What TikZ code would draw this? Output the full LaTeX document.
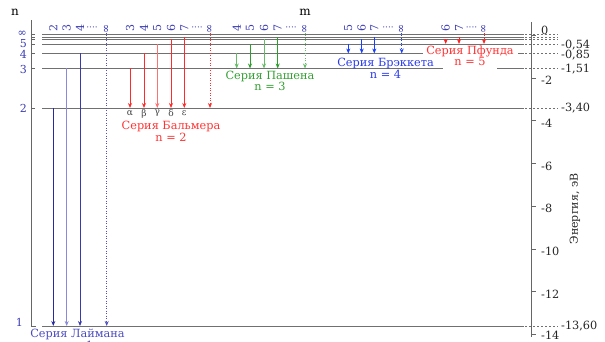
\documentclass[tikz,border=0pt]{standalone}
\usepackage{fontspec}
\setmainfont{DejaVu Serif}
\usetikzlibrary{arrows.meta}
\definecolor{lvlgray}{HTML}{707070}
\definecolor{lab}{HTML}{3C3CB4}
\definecolor{lyA}{HTML}{2A2AA0}
\definecolor{lyB}{HTML}{8A8AD8}
\definecolor{lyC}{HTML}{3A3AB0}
\definecolor{lyD}{HTML}{5050C0}
\definecolor{baR}{HTML}{FF2A2A}
\definecolor{baL}{HTML}{FF7070}
\definecolor{paG}{HTML}{2E9E2E}
\definecolor{paL}{HTML}{66BB66}
\definecolor{brB}{HTML}{1A40FF}
\definecolor{pfR}{HTML}{FF2020}
\definecolor{serR}{HTML}{FF3333}
\definecolor{serG}{HTML}{33A033}
\definecolor{serB}{HTML}{2A3AE8}
\definecolor{serL}{HTML}{4A4AC0}
\begin{document}
\begin{tikzpicture}[x=1pt,y=-1pt,
  lvl/.style={draw=lvlgray, line width=0.8pt},
  ext/.style={draw=lvlgray, line width=0.6pt, dash pattern=on 2pt off 2pt},
  axis/.style={draw=black!60, line width=0.9pt},
  arr/.style={-{Stealth[length=5pt,width=4pt]}, line width=0.8pt},
  dotarr/.style={arr, dash pattern=on 1pt off 1.5pt},
  mlab/.style={rotate=90, text=lab, font=\fontsize{11}{11}\selectfont, inner sep=0pt},
  dots/.style={text=lab, font=\fontsize{9}{9}\selectfont, inner sep=0pt},
  nlab/.style={text=lab, font=\fontsize{11}{11}\selectfont, anchor=east, inner sep=0pt},
  elab/.style={font=\fontsize{11.3}{11.3}\selectfont, anchor=west, inner sep=0pt, text=black!85},
  ser/.style={font=\fontsize{11.3}{11.5}\selectfont, inner sep=0pt},
  greek/.style={font=\fontsize{9}{9}\selectfont, text=black!75, inner sep=0pt}]
\useasboundingbox (0,0) rectangle (605,342);
% level y values
\def\yI{34.5}\def\ySv{37}\def\ySx{39.5}\def\yF{44}\def\yQ{53.5}\def\yT{68.5}\def\yB{108}\def\yA{326}
% level lines
\foreach \yy in {\yI,\ySv,\ySx,\yF,\yB,\yA}{
  \draw[lvl] (42,\yy) -- (524,\yy);
  \draw[ext] (525,\yy) -- (558,\yy);
}
\draw[lvl] (42,\yQ) -- (423,\yQ);
\draw[lvl] (518,\yQ) -- (524,\yQ);
\draw[ext] (525,\yQ) -- (558,\yQ);
\draw[lvl] (42,\yT) -- (443,\yT);
\draw[lvl] (497,\yT) -- (524,\yT);
\draw[ext] (525,\yT) -- (558,\yT);
% left axis
\draw[axis] (31,20) -- (31,\yA) -- (36,\yA);
\foreach \yy in {\yI,\ySv,\ySx,\yF,\yQ,\yT,\yB}{\draw[axis,line width=0.6pt] (31,\yy) -- (35,\yy);}
\node[nlab] (ninf) at (27,33.5) {∞};
\node[nlab] (n5) at (27,44) {5};
\node[nlab] (n4) at (27,54.5) {4};
\node[nlab] (n3) at (27,69) {3};
\node[nlab] (n2) at (27,108) {2};
\node[nlab] (n1) at (23,322) {1};
\node[font=\fontsize{12}{12}\selectfont] (nhead) at (15,12) {n};
\node[font=\fontsize{12}{12}\selectfont] (mhead) at (305,12) {m};
% right axis
\draw[axis] (531,22) -- (531,337);
\foreach \k in {0,...,7}{\draw[axis,line width=0.6pt] (531,35.3+42.7*\k) -- (536,35.3+42.7*\k);}
\node[elab] (e0) at (541,30) {0};
\foreach \k/\t in {1/-2,2/-4,3/-6,4/-8,5/-10,6/-12}{\node[elab] (ax\k) at (541,37.8+42.7*\k) {\t};}
\node[elab] (ax7) at (541,335.5) {-14};
\node[elab] (l5) at (561,45) {-0,54};
\node[elab] (l4) at (561,55) {-0,85};
\node[elab] (l3) at (561,69) {-1,51};
\node[elab] (l2) at (561,108) {-3,40};
\node[elab] (l1) at (561,326) {-13,60};
\node[rotate=90, font=\fontsize{11}{11}\selectfont, text=black!85] (eaxis) at (575,209) {Энергия, эВ};
% ---- Lyman
\coordinate (ly2s) at (53.3,\yB); \coordinate (ly2e) at (53.3,\yA);
\coordinate (ly3s) at (66.7,\yT); \coordinate (ly3e) at (66.7,\yA);
\coordinate (ly4s) at (80,\yQ);   \coordinate (ly4e) at (80,\yA);
\coordinate (lyis) at (106.7,33); \coordinate (lyie) at (106.7,\yA);
\draw[arr,lyA] (ly2s) -- (ly2e);
\draw[arr,lyB] (ly3s) -- (ly3e);
\draw[arr,lyC] (ly4s) -- (ly4e);
\draw[dotarr,lyD] (lyis) -- (lyie);
\node[mlab] (m12) at (53.3,28.5) {2};
\node[mlab] (m13) at (66.7,28.5) {3};
\node[mlab] (m14) at (80,28.5) {4};
\node[dots] (d1) at (92,28.5) {····};
\node[mlab] (m1i) at (106.7,28.5) {∞};
\node[ser,text=serL] (lyname) at (77.5,334.5) {Серия Лаймана};
\node[ser,text=serL] (lyn) at (77.5,345) {n = 1};
% ---- Balmer
\coordinate (ba3s) at (130,\yT);  \coordinate (ba3e) at (130,\yB);
\coordinate (ba4s) at (144,\yQ);  \coordinate (ba4e) at (144,\yB);
\coordinate (ba5s) at (157.3,\yF);\coordinate (ba5e) at (157.3,\yB);
\coordinate (ba6s) at (171,\ySx); \coordinate (ba6e) at (171,\yB);
\coordinate (ba7s) at (184.3,\ySv);\coordinate (ba7e) at (184.3,\yB);
\coordinate (bais) at (210,33);   \coordinate (baie) at (210,\yB);
\draw[arr,baR] (ba3s) -- (ba3e);
\draw[arr,baR] (ba4s) -- (ba4e);
\draw[arr,baL] (ba5s) -- (ba5e);
\draw[arr,baR] (ba6s) -- (ba6e);
\draw[arr,baR] (ba7s) -- (ba7e);
\draw[dotarr,baR] (bais) -- (baie);
\node[mlab] (m23) at (130,28.5) {3};
\node[mlab] (m24) at (144,28.5) {4};
\node[mlab] (m25) at (157.3,28.5) {5};
\node[mlab] (m26) at (171,28.5) {6};
\node[mlab] (m27) at (184.3,28.5) {7};
\node[dots] (d2) at (197,28.5) {····};
\node[mlab] (m2i) at (210,28.5) {∞};
\node[greek] (ga) at (130,113.5) {α};
\node[greek] (gb) at (144,113.5) {β};
\node[greek] (gc) at (157.3,113.5) {γ};
\node[greek] (gd) at (171,113.5) {δ};
\node[greek] (ge) at (184.3,113.5) {ε};
\node[ser,text=serR] (baname) at (171,126) {Серия Бальмера};
\node[ser,text=serR] (ban) at (171,137) {n = 2};
% ---- Paschen
\coordinate (pa4s) at (236.7,\yQ); \coordinate (pa4e) at (236.7,\yT);
\coordinate (pa5s) at (250,\yF);   \coordinate (pa5e) at (250,\yT);
\coordinate (pa6s) at (264,\ySx);  \coordinate (pa6e) at (264,\yT);
\coordinate (pa7s) at (277.7,\ySv);\coordinate (pa7e) at (277.7,\yT);
\coordinate (pais) at (305,33);    \coordinate (paie) at (305,\yT);
\draw[arr,paL] (pa4s) -- (pa4e);
\draw[arr,paG] (pa5s) -- (pa5e);
\draw[arr,paL] (pa6s) -- (pa6e);
\draw[arr,paG] (pa7s) -- (pa7e);
\draw[dotarr,paL] (pais) -- (paie);
\node[mlab] (m34) at (236.7,28.5) {4};
\node[mlab] (m35) at (250,28.5) {5};
\node[mlab] (m36) at (264,28.5) {6};
\node[mlab] (m37) at (277.7,28.5) {7};
\node[dots] (d3) at (291,28.5) {····};
\node[mlab] (m3i) at (305,28.5) {∞};
\node[ser,text=serG] (paname) at (270,76) {Серия Пашена};
\node[ser,text=serG] (pan) at (270,86.5) {n = 3};
% ---- Brackett
\coordinate (br5s) at (348.3,\yF); \coordinate (br5e) at (348.3,\yQ);
\coordinate (br6s) at (361.7,\ySx);\coordinate (br6e) at (361.7,\yQ);
\coordinate (br7s) at (374.3,\ySv);\coordinate (br7e) at (374.3,\yQ);
\coordinate (bris) at (401.7,33);  \coordinate (brie) at (401.7,\yQ);
\draw[arr,brB] (br5s) -- (br5e);
\draw[arr,brB] (br6s) -- (br6e);
\draw[arr,brB] (br7s) -- (br7e);
\draw[dotarr,brB] (bris) -- (brie);
\node[mlab] (m45) at (348.3,28.5) {5};
\node[mlab] (m46) at (361.7,28.5) {6};
\node[mlab] (m47) at (374.3,28.5) {7};
\node[dots] (d4) at (388,28.5) {····};
\node[mlab] (m4i) at (401.7,28.5) {∞};
\node[ser,text=serB] (brname) at (385.5,63.5) {Серия Брэккета};
\node[ser,text=serB] (brn) at (385.5,74.5) {n = 4};
% ---- Pfund
\coordinate (pf6s) at (445.7,\ySx); \coordinate (pf6e) at (445.7,\yF);
\coordinate (pf7s) at (459,\ySv);   \coordinate (pf7e) at (459,\yF);
\coordinate (pfis) at (484,33);     \coordinate (pfie) at (484,\yF);
\draw[arr,pfR] (pf6s) -- (pf6e);
\draw[arr,pfR] (pf7s) -- (pf7e);
\draw[dotarr,pfR] (pfis) -- (pfie);
\node[mlab] (m56) at (445.7,28.5) {6};
\node[mlab] (m57) at (459,28.5) {7};
\node[dots] (d5) at (471.5,28.5) {····};
\node[mlab] (m5i) at (484,28.5) {∞};
\node[ser,text=serR] (pfname) at (470,51) {Серия Пфунда};
\node[ser,text=serR] (pfn) at (470,61.5) {n = 5};
\end{tikzpicture}
\end{document}
